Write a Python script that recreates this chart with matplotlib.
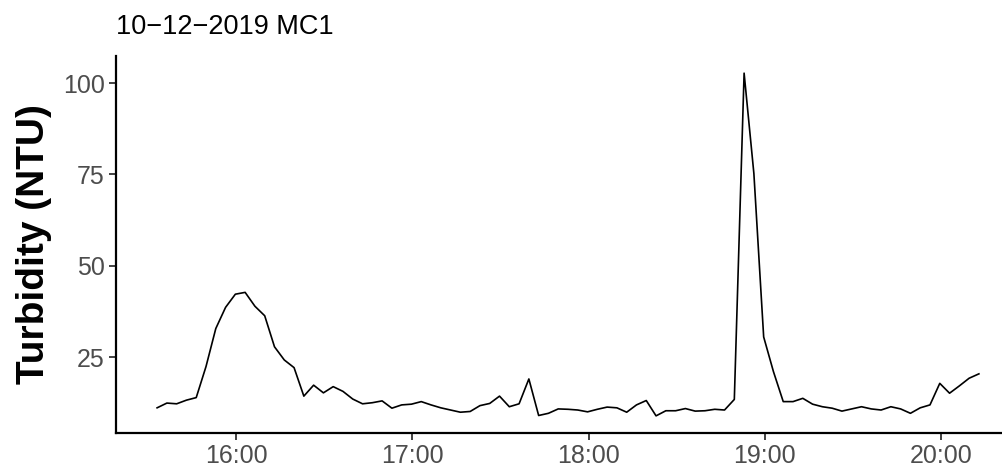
import matplotlib
matplotlib.use("Agg")
import matplotlib.pyplot as plt
import matplotlib.dates as mdates
import pandas as pd

# turbidity logger, one reading every 200 s
start_time = "2019-10-12 15:33:00"
step = "200s"
turbidity = [11.1, 12.4, 12.2, 13.2, 13.9, 22.4, 32.8, 38.6, 42.2, 42.7,
             38.9, 36.3, 27.8, 24.2, 22.1, 14.3, 17.3, 15.2, 16.9, 15.6,
             13.5, 12.2, 12.5, 13.0, 11.0, 11.9, 12.1, 12.8, 11.9, 11.1,
             10.5, 9.9, 10.1, 11.7, 12.3, 14.3, 11.4, 12.2, 19.0, 9.0,
             9.6, 10.8, 10.7, 10.5, 10.0, 10.7, 11.3, 11.1, 9.9, 11.9,
             13.1, 8.9, 10.3, 10.3, 10.9, 10.2, 10.3, 10.7, 10.5, 13.4,
             102.7, 75.2, 30.5, 21.0, 12.8, 12.8, 13.7, 12.1, 11.4, 11.0,
             10.2, 10.8, 11.4, 10.8, 10.5, 11.4, 10.8, 9.6, 11.1, 11.9,
             17.8, 15.1, 17.1, 19.2, 20.4]
y_ticks = [25, 50, 75, 100]
x_ticks = ["16:00", "17:00", "18:00", "19:00", "20:00"]
title = "10\u221212\u22122019 MC1"

times = pd.date_range(start_time, periods=len(turbidity), freq=step)
df = pd.DataFrame({"time": times, "ntu": turbidity})

plt.rcParams["font.family"] = ["Liberation Sans", "DejaVu Sans"]

fig = plt.figure(figsize=(10.03, 4.73), dpi=100)
# panel runs a bit past the right edge of the figure
ax = fig.add_axes([116 / 1003, 1 - 433 / 473, (1020 - 116) / 1003, (433 - 56) / 473])

ax.plot(df["time"], df["ntu"], color="black", lw=1.2)

# ggplot-like 5% expansion
t0, t1 = df["time"].min(), df["time"].max()
pad = (t1 - t0) * 0.05
ax.set_xlim(t0 - pad, t1 + pad)
ymin, ymax = min(turbidity), max(turbidity)
ypad = (ymax - ymin) * 0.05
ax.set_ylim(ymin - ypad, ymax + ypad)

day = t0.strftime("%Y-%m-%d")
ax.set_xticks([pd.Timestamp(f"{day} {t}") for t in x_ticks])
ax.xaxis.set_major_formatter(mdates.DateFormatter("%H:%M"))
ax.set_yticks(y_ticks)

for s in ["top", "right"]:
    ax.spines[s].set_visible(False)
for s in ["left", "bottom"]:
    ax.spines[s].set_linewidth(1.6)
    ax.spines[s].set_color("black")

ax.tick_params(axis="both", length=5, width=1.3, color="#333333",
               labelsize=18, labelcolor="#4D4D4D", pad=3)

ax.set_ylabel("Turbidity (NTU)", fontsize=28, fontweight="bold", labelpad=8)
ax.set_title(title, loc="left", fontsize=19.5, pad=16)

fig.savefig("out.png", dpi=100, facecolor="white")
